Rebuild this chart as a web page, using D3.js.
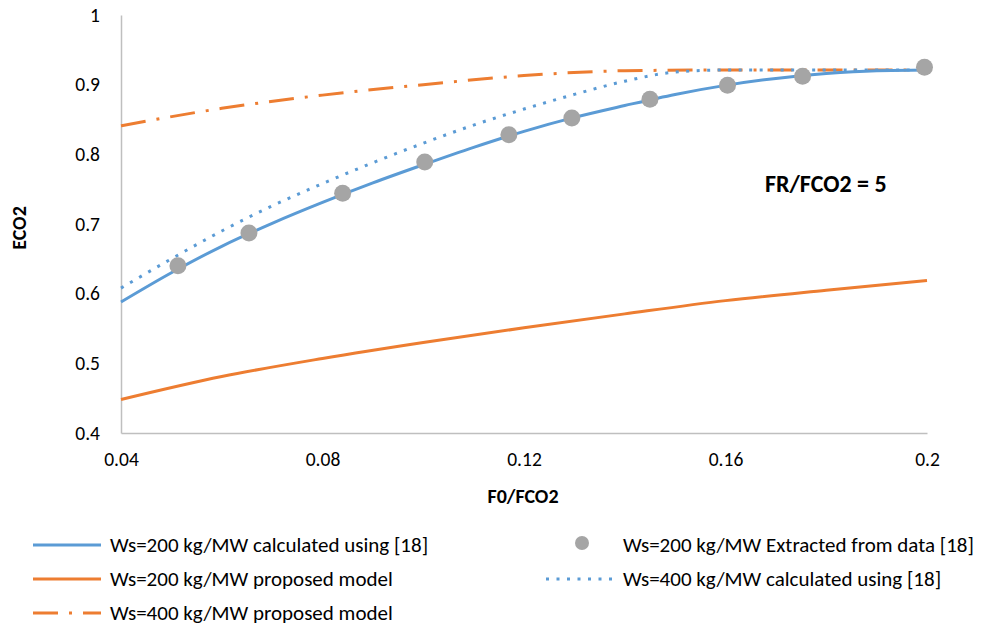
<!DOCTYPE html>
<html>
<head>
<meta charset="utf-8">
<script src="https://cdn.jsdelivr.net/npm/d3@7"></script>
<style>
  body { margin: 0; background: #fff; }
  svg text { font-family: Carlito, "Liberation Sans Narrow", "Open Sans", sans-serif; fill: #000; }
</style>
</head>
<body>
<div id="chart"></div>
<script>
// F0/FCO2 values for the calculated curves (Ws=200 and Ws=400)
const xCalc = [0.04, 0.05, 0.06, 0.07, 0.08, 0.09, 0.10, 0.11, 0.12, 0.13, 0.14, 0.15, 0.16, 0.17, 0.18, 0.19, 0.20];
const ws200Calc = [0.588, 0.630, 0.668, 0.701, 0.731, 0.759, 0.785, 0.810, 0.833, 0.853, 0.870, 0.886, 0.899, 0.909, 0.916, 0.920, 0.921];
const ws400Calc = [0.608, 0.650, 0.690, 0.726, 0.758, 0.788, 0.816, 0.842, 0.865, 0.886, 0.905, 0.918, 0.921, 0.921, 0.921, 0.921, 0.921];

// proposed model curves
const xModel = [0.04, 0.06, 0.08, 0.10, 0.12, 0.14, 0.16, 0.18, 0.20];
const ws200Model = [0.448, 0.481, 0.507, 0.530, 0.551, 0.571, 0.590, 0.605, 0.619];
const ws400Model = [0.841, 0.866, 0.885, 0.900, 0.913, 0.920, 0.921, 0.921, 0.921];

// extracted points
const xData = [0.0513, 0.0654, 0.0840, 0.1003, 0.1170, 0.1295, 0.1450, 0.1604, 0.1753, 0.1995];
const ws200Data = [0.640, 0.687, 0.744, 0.789, 0.828, 0.852, 0.879, 0.899, 0.912, 0.925];

const xTicks = [0.04, 0.08, 0.12, 0.16, 0.2];
const yTicks = [0.4, 0.5, 0.6, 0.7, 0.8, 0.9, 1];

const legendItems = [
  {label: "Ws=200 kg/MW calculated using [18]", type: "solid", color: "#5B9BD5", col: 0, row: 0},
  {label: "Ws=200 kg/MW Extracted from data [18]", type: "marker", color: "#A5A5A5", col: 1, row: 0},
  {label: "Ws=200 kg/MW proposed model", type: "solid", color: "#ED7D31", col: 0, row: 1},
  {label: "Ws=400 kg/MW calculated using [18]", type: "dot", color: "#5B9BD5", col: 1, row: 1},
  {label: "Ws=400 kg/MW proposed model", type: "dashdot", color: "#ED7D31", col: 0, row: 2}
];

const width = 981, height = 631;
const plotL = 121, plotR = 927, plotT = 15, plotB = 433;

const svg = d3.select("#chart").append("svg")
  .attr("width", width)
  .attr("height", height);

const x = d3.scaleLinear().domain([0.04, 0.2]).range([plotL, plotR]);
const y = d3.scaleLinear().domain([0.4, 1]).range([plotB, plotT]);

// axes (no ticks, grey lines only)
const xAxis = svg.append("g")
  .attr("transform", `translate(0,${plotB})`)
  .call(d3.axisBottom(x).tickValues(xTicks).tickSize(0).tickPadding(19).tickFormat(d => String(+d.toFixed(2))));
const yAxis = svg.append("g")
  .attr("transform", `translate(${plotL},0)`)
  .call(d3.axisLeft(y).tickValues(yTicks).tickSize(0).tickPadding(21).tickFormat(d => String(+d.toFixed(1))));

[xAxis, yAxis].forEach(g => {
  g.select(".domain").attr("stroke", "#BFBFBF").attr("stroke-width", 1.5);
  g.selectAll("text").style("font-size", "19.5px").attr("fill", "#000");
});
xAxis.selectAll("text").attr("dy", "0.71em");

// axis titles
svg.append("text")
  .attr("x", 523)
  .attr("y", 503)
  .attr("text-anchor", "middle")
  .style("font-size", "20px")
  .style("font-weight", "bold")
  .text("F0/FCO2");

svg.append("text")
  .attr("transform", `translate(26,228) rotate(-90)`)
  .attr("text-anchor", "middle")
  .style("font-size", "20px")
  .style("font-weight", "bold")
  .text("ECO2");

svg.append("text")
  .attr("x", 765)
  .attr("y", 192)
  .style("font-size", "24px")
  .style("font-weight", "bold")
  .text("FR/FCO2 = 5");

const line = d3.line()
  .x(d => x(d[0]))
  .y(d => y(d[1]))
  .curve(d3.curveMonotoneX);

const dashes = {solid: null, dot: "3,7.5", dashdot: "25,11,3,11"};

const series = [
  {xs: xModel, ys: ws400Model, color: "#ED7D31", type: "dashdot"},
  {xs: xCalc, ys: ws400Calc, color: "#5B9BD5", type: "dot"},
  {xs: xCalc, ys: ws200Calc, color: "#5B9BD5", type: "solid"},
  {xs: xModel, ys: ws200Model, color: "#ED7D31", type: "solid"}
];

series.forEach(s => {
  svg.append("path")
    .datum(s.xs.map((v, i) => [v, s.ys[i]]))
    .attr("fill", "none")
    .attr("stroke", s.color)
    .attr("stroke-width", 3)
    .attr("stroke-dasharray", dashes[s.type])
    .attr("d", line);
});

svg.selectAll(".pt")
  .data(xData.map((v, i) => [v, ws200Data[i]]))
  .enter()
  .append("circle")
  .attr("class", "pt")
  .attr("cx", d => x(d[0]))
  .attr("cy", d => y(d[1]))
  .attr("r", 8.5)
  .attr("fill", "#A5A5A5");

// legend
const colX = [33, 546];
const rowY = [545, 579, 613];
const leg = svg.append("g");
legendItems.forEach(it => {
  const lx = colX[it.col], ly = rowY[it.row];
  if (it.type === "marker") {
    leg.append("circle")
      .attr("cx", lx + 36).attr("cy", ly - 2).attr("r", 7)
      .attr("fill", it.color);
  } else {
    leg.append("line")
      .attr("x1", lx).attr("x2", lx + 68)
      .attr("y1", ly).attr("y2", ly)
      .attr("stroke", it.color)
      .attr("stroke-width", 3)
      .attr("stroke-dasharray", dashes[it.type]);
  }
  leg.append("text")
    .attr("x", lx + 77)
    .attr("y", ly)
    .attr("dy", "0.35em")
    .style("font-size", "21px")
    .text(it.label);
});
</script>
</body>
</html>
